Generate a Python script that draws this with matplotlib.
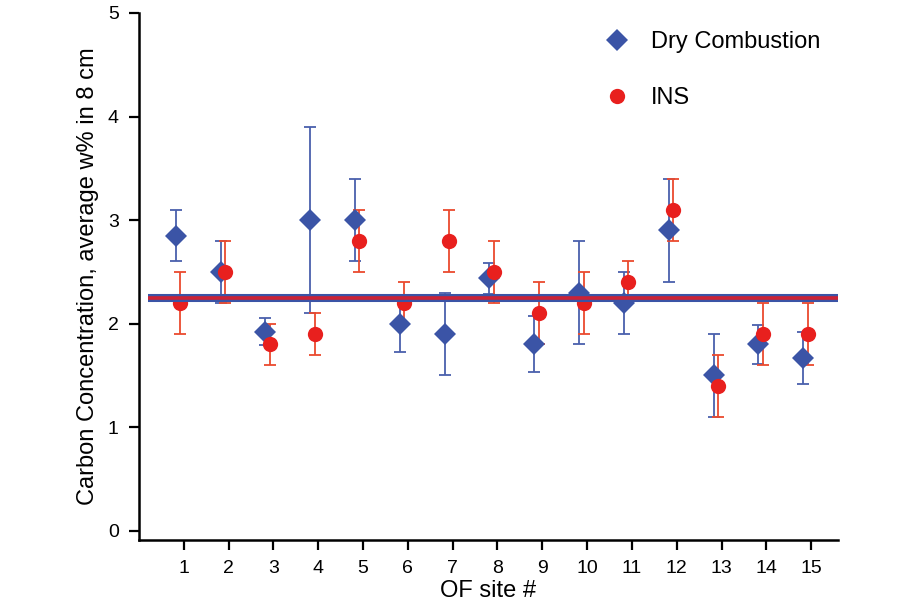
import numpy as np
import matplotlib
matplotlib.use("Agg")
import matplotlib.pyplot as plt

plt.rcParams['font.family'] = ['Liberation Sans', 'DejaVu Sans']

sites = np.arange(1, 16)
site_labels = [str(s) for s in sites]

# Dry Combustion, mean and error
dry = [2.85, 2.50, 1.92, 3.00, 3.00, 2.00, 1.90, 2.44, 1.80, 2.30, 2.20, 2.90, 1.50, 1.80, 1.67]
dry_err = [0.25, 0.30, 0.13, 0.90, 0.40, 0.27, 0.40, 0.15, 0.27, 0.50, 0.30, 0.50, 0.40, 0.19, 0.25]

# INS, mean and error
ins = [2.20, 2.50, 1.80, 1.90, 2.80, 2.20, 2.80, 2.50, 2.10, 2.20, 2.40, 3.10, 1.40, 1.90, 1.90]
ins_err = [0.30, 0.30, 0.20, 0.20, 0.30, 0.20, 0.30, 0.30, 0.30, 0.30, 0.20, 0.30, 0.30, 0.30, 0.30]

dry_mean = 2.25
ins_mean = 2.25

blue = '#3b54a6'
blue_err = '#4a60ad'
red = '#e8201e'
red_err = '#ea4a2e'

fig = plt.figure(figsize=(9.1, 6.12), dpi=100)
ax = fig.add_axes([0.1527, 0.1176, 0.921 - 0.1527, 0.9788 - 0.1176])

x_dry = sites - 0.18
x_ins = sites - 0.08

ax.errorbar(x_dry, dry, yerr=dry_err, fmt='none', ecolor=blue_err,
            elinewidth=1.3, capsize=4.3, capthick=1.3, zorder=2)
ax.errorbar(x_ins, ins, yerr=ins_err, fmt='none', ecolor=red_err,
            elinewidth=1.3, capsize=4.3, capthick=1.3, zorder=3)
h_dry, = ax.plot(x_dry, dry, 'D', color=blue, markersize=11.5, markeredgewidth=0,
                 linestyle='none', label='Dry Combustion', zorder=4)
h_ins, = ax.plot(x_ins, ins, 'o', color=red, markersize=11, markeredgewidth=0,
                 linestyle='none', label='INS', zorder=5)

ax.plot([0.2, 15.6], [dry_mean, dry_mean], color=blue, lw=5.8, zorder=6,
        solid_capstyle='butt')
ax.plot([0.2, 15.6], [ins_mean, ins_mean], color='#cc2235', lw=2.6, zorder=7,
        solid_capstyle='butt')

ax.set_xlim(0, 15.6)
ax.set_ylim(-0.09, 5)
ax.set_xticks(sites)
ax.set_xticklabels(site_labels)
ax.set_yticks([0, 1, 2, 3, 4, 5])

for side in ['top', 'right']:
    ax.spines[side].set_visible(False)
for side in ['left', 'bottom']:
    ax.spines[side].set_linewidth(1.8)

ax.tick_params(axis='both', direction='out', length=7.5, width=1.6,
               labelsize=14, colors='black', pad=7)

ax.set_xlabel('OF site #', fontsize=17, labelpad=2)
ax.set_ylabel('Carbon Concentration, average w% in 8 cm', fontsize=17, labelpad=6)

ax.legend(handles=[h_dry, h_ins], loc='upper left',
          bbox_to_anchor=(605 / 910, 1 - 31 / 612), bbox_transform=fig.transFigure,
          frameon=False, fontsize=17, handlelength=1.0, handletextpad=0.95,
          labelspacing=1.45, borderpad=0, borderaxespad=0)

fig.savefig('out.png', dpi=100)
